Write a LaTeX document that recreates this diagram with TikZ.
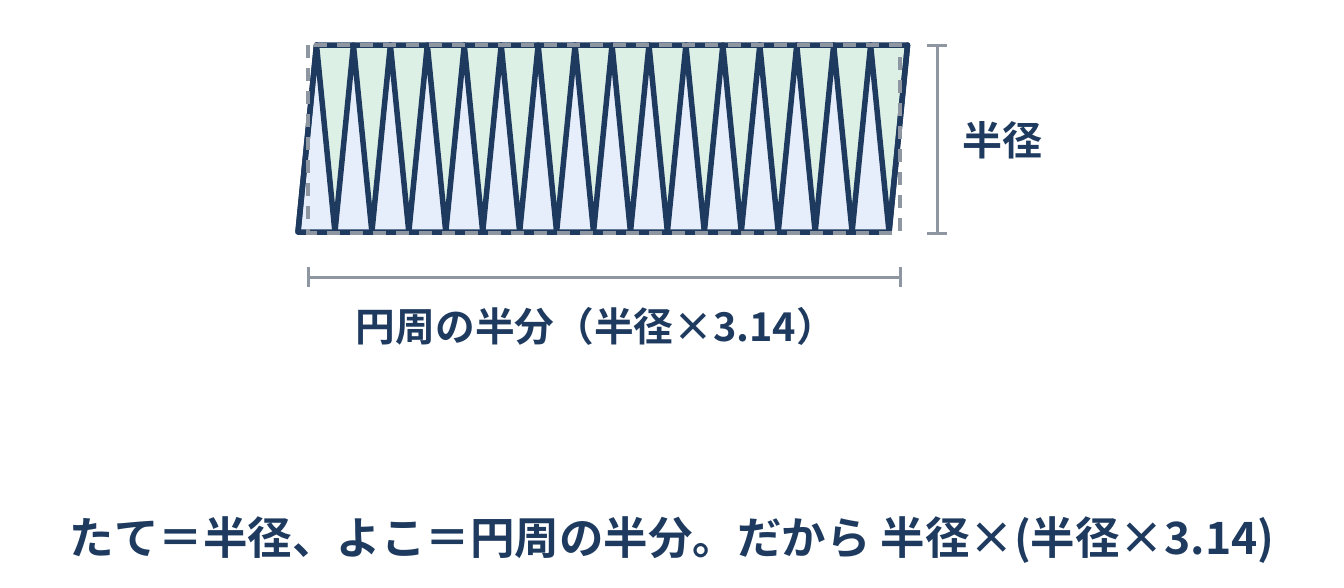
\documentclass[tikz,border=0pt]{standalone}
\usepackage{fontspec}
\setmainfont{Noto Sans CJK JP}[BoldFont=* Bold]
\definecolor{navy}{HTML}{1E3A5F}
\definecolor{dimgray}{HTML}{8D96A1}
\definecolor{greenfill}{HTML}{DDF0E5}
\definecolor{bluefill}{HTML}{E7EEFB}
\begin{document}
\begin{tikzpicture}[x=1pt,y=-1pt,
  outline/.style={draw=navy,line width=5.5pt,line join=round,line cap=round},
  dashrect/.style={draw=dimgray,line width=3.5pt,dash pattern=on 13pt off 10pt},
  dimline/.style={draw=dimgray,line width=3pt},
  lbl/.style={text=navy,font=\bfseries,inner sep=0pt}]
\useasboundingbox (0,0) rectangle (1344,587);
\foreach \i in {0,...,16} {
  \coordinate (b\i) at ({298+36.94*\i},232);
  \coordinate (t\i) at ({316.5+36.94*\i},45);
}
\foreach \i [evaluate=\i as \j using int(\i+1)] in {0,...,15} {
  \fill[bluefill] (b\i) -- (b\j) -- (t\i) -- cycle;
  \fill[greenfill] (t\i) -- (t\j) -- (b\j) -- cycle;
}
\draw[outline] (b0) \foreach \i [evaluate=\i as \j using int(\i+1)] in {0,...,15} { -- (t\i) -- (b\j) } -- (t16);
\draw[outline] (b0) -- (b16) -- (t16) -- (t0) -- cycle;
% dashed reference rectangle
\coordinate (r1) at (308,45);
\coordinate (r2) at (900,233);
\draw[dashrect] (r1) rectangle (r2);
% right dimension
\coordinate (v1) at (937,45);
\coordinate (v2) at (937,233);
\draw[dimline] (v1) -- (v2);
\draw[dimline] ([xshift=-10pt]v1) -- ([xshift=10pt]v1);
\draw[dimline] ([xshift=-10pt]v2) -- ([xshift=10pt]v2);
\node[lbl,font=\bfseries\fontsize{40}{42}\selectfont,anchor=west] (rad) at (962,140) {半径};
% bottom dimension
\coordinate (h1) at (308,277);
\coordinate (h2) at (900,277);
\draw[dimline] (h1) -- (h2);
\draw[dimline] ([yshift=-10pt]h1) -- ([yshift=10pt]h1);
\draw[dimline] ([yshift=-10pt]h2) -- ([yshift=10pt]h2);
\node[lbl,font=\bfseries\fontsize{39.7}{42}\selectfont] (half) at (596,326) {円周の半分（半径×3.14）};
% bottom sentence
\node[lbl,font=\bfseries\fontsize{44.5}{47}\selectfont] (sent) at (672,540) {たて＝半径、よこ＝円周の半分。だから 半径×(半径×3.14)};
\end{tikzpicture}
\end{document}
